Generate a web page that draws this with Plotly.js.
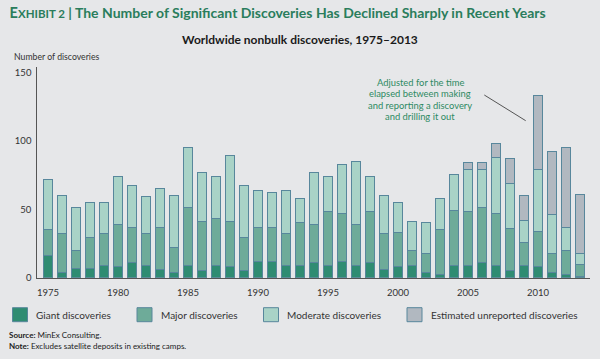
<!DOCTYPE html>
<html>
<head>
<meta charset="utf-8">
<script src="https://cdn.plot.ly/plotly-3.0.1.min.js"></script>
<style>html,body{margin:0;padding:0;background:#e6e7e9;}#chart{width:600px;height:359px;}</style>
</head>
<body>
<div id="chart"></div>
<script>
// ---- Data ----
const years = [1975,1976,1977,1978,1979,1980,1981,1982,1983,1984,1985,1986,1987,1988,1989,1990,1991,1992,1993,1994,1995,1996,1997,1998,1999,2000,2001,2002,2003,2004,2005,2006,2007,2008,2009,2010,2011,2012,2013];
const giant      = [16,4,7,7,9,8,11,9,6,4,9,5,9,8,5,12,12,9,9,11,9,12,9,11,6,8,9,4,2,9,9,11,9,5,9,8,4,2,1];
const major      = [19,28,13,22,23,31,26,23,31,18,42,36,34,33,24,25,25,23,31,28,39,35,30,37,26,25,11,14,33,40,39,40,38,31,17,26,14,18,9];
const moderate   = [37,28,31,26,23,35,30,27,28,38,44,36,31,48,38,27,25,32,18,38,26,36,46,26,28,22,21,22,23,26,31,28,41,33,16,45,28,17,8];
const unreported = [null,null,null,null,null,null,null,null,null,null,null,null,null,null,null,null,null,null,null,null,null,null,null,null,null,null,null,null,null,null,5,5,10,18,18,54,46,58,43];

const seriesNames  = ['Giant discoveries','Major discoveries','Moderate discoveries','Estimated unreported discoveries'];
const seriesColors = ['#2f8c72','#6eab99','#a9d3c7','#b1b8c0'];
const xTickVals = [1975,1980,1985,1990,1995,2000,2005,2010];
const yTickVals = [0,50,100,150];

const titleText = '<span style="font-size:14.5px">E</span><span style="font-size:11.5px">XHIBIT 2</span> | The Number of Significant Discoveries Has Declined Sharply in Recent Years';
const subtitleText = 'Worldwide nonbulk discoveries, 1975–2013';
const yLabelText = 'Number of discoveries';
const calloutLines = ['Adjusted for the time','elapsed between making','and reporting a discovery','and drilling it out'];
const sourceText = '<b>Source:</b> MinEx Consulting.';
const noteText = '<b>Note:</b> Excludes satellite deposits in existing camps.';

// ---- Layout helpers (pixel -> paper) ----
const W = 600, H = 359;
const px = x => x / W;
const py = y => 1 - y / H;
const FONT = 'Lato, "Open Sans", sans-serif';
const BG = '#e6e7e9';
const EDGE = '#58879c';
const GREEN = '#2a7d5c';

const allSeries = [giant, major, moderate, unreported];
const traces = allSeries.map((vals, i) => ({
  type: 'bar',
  x: years,
  y: vals,
  name: seriesNames[i],
  showlegend: false,
  marker: {color: seriesColors[i], line: {color: EDGE, width: 1}},
  hoverinfo: 'x+y+name'
}));

const annotations = [];
const shapes = [];

annotations.push({xref:'paper', yref:'paper', x:px(300), y:py(40), xanchor:'center', yanchor:'middle',
  text:'<b>'+subtitleText+'</b>', showarrow:false, font:{family:FONT, size:12, color:'#1a1a1a'}});
annotations.push({xref:'paper', yref:'paper', x:px(12.5), y:py(56.7), xanchor:'left', yanchor:'middle',
  text:yLabelText, showarrow:false, borderpad:0, font:{family:FONT, size:8.7, color:'#333'}});

const calloutY = [82.6, 93.9, 105.2, 116.5];
calloutLines.forEach((t, i) => {
  annotations.push({xref:'paper', yref:'paper', x:px(420), y:py(calloutY[i]), xanchor:'center', yanchor:'middle',
    text:t, showarrow:false, borderpad:0, font:{family:FONT, size:9.4, color:'#2e8a63'}});
});
shapes.push({type:'line', xref:'paper', yref:'paper', x0:px(484.3), y0:py(95), x1:px(525.7), y1:py(120.7),
  line:{color:'#555', width:1}});

// manual legend
const legSwatchL = [12.5, 137, 263.5, 407];
const legTextL = [34.4, 158.8, 285, 428.6];
const legY = 314.7;
seriesNames.forEach((n, i) => {
  shapes.push({type:'rect', xref:'paper', yref:'paper', x0:px(legSwatchL[i]), x1:px(legSwatchL[i]+15),
    y0:py(legY-7), y1:py(legY+7), fillcolor:seriesColors[i], line:{color:EDGE, width:1}});
  annotations.push({xref:'paper', yref:'paper', x:px(legTextL[i]), y:py(legY), xanchor:'left', yanchor:'middle',
    text:n, showarrow:false, font:{family:FONT, size:10, color:'#333'}});
});

annotations.push({xref:'paper', yref:'paper', x:px(8), y:py(334.5), xanchor:'left', yanchor:'middle',
  text:sourceText, showarrow:false, borderpad:0, font:{family:FONT, size:8, color:'#222'}});
annotations.push({xref:'paper', yref:'paper', x:px(8), y:py(345.5), xanchor:'left', yanchor:'middle',
  text:noteText, showarrow:false, borderpad:0, font:{family:FONT, size:8, color:'#222'}});

const layout = {
  width: W, height: H,
  margin: {l:0, r:0, t:0, b:0},
  paper_bgcolor: BG, plot_bgcolor: BG,
  barmode: 'stack',
  bargap: 0.33,
  font: {family: FONT, color: '#333'},
  title: {text: titleText, xref:'container', yref:'container', x: px(9.6), y: py(12.6),
    xanchor:'left', yanchor:'middle', font:{family:FONT, size:14, color:GREEN, weight:'bold'}},
  xaxis: {domain:[px(37.3), px(590)], range:[1974.24, 2013.72], tickvals:xTickVals, ticks:'',
    showgrid:false, zeroline:false, showline:true, linecolor:'#555', linewidth:1,
    tickfont:{family:FONT, size:9.5, color:'#333'}, ticklabelstandoff:6, fixedrange:true},
  yaxis: {domain:[py(277.7), py(67.3)], range:[0, 153.6], tickvals:yTickVals, ticks:'',
    showgrid:false, zeroline:false, showline:true, linecolor:'#555', linewidth:1,
    tickfont:{family:FONT, size:9.5, color:'#333'}, ticklabelstandoff:3, fixedrange:true},
  annotations: annotations,
  shapes: shapes
};

Plotly.newPlot('chart', traces, layout, {displayModeBar:false, staticPlot:true});
</script>
</body>
</html>
